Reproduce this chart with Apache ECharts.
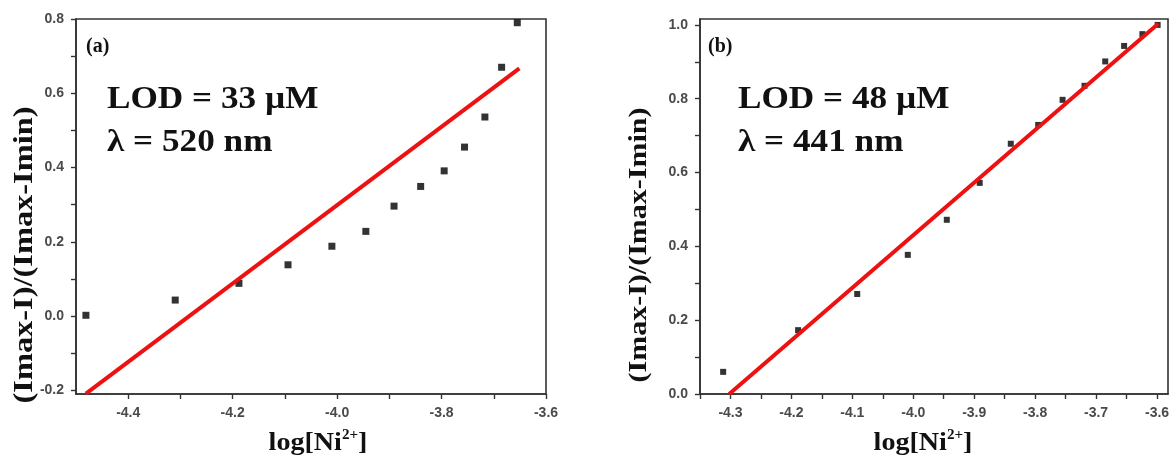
<!DOCTYPE html>
<html>
<head>
<meta charset="utf-8">
<script src="https://cdn.jsdelivr.net/npm/echarts@6/dist/echarts.min.js"></script>
<style>
html,body{margin:0;padding:0;background:#fff;}
#c{width:1174px;height:459px;}
</style>
</head>
<body>
<div id="c"></div>
<script>
// ---- Data ----
const xA = [-4.481, -4.310, -4.188, -4.094, -4.010, -3.945, -3.891, -3.840, -3.795, -3.756, -3.717, -3.685, -3.655];
const yA = [0.002, 0.043, 0.088, 0.138, 0.188, 0.228, 0.296, 0.349, 0.391, 0.455, 0.536, 0.670, 0.790];
const fitXA = [-4.481, -3.651];
const fitYA = [-0.209, 0.667];

const xB = [-4.312, -4.189, -4.092, -4.009, -3.945, -3.891, -3.840, -3.795, -3.755, -3.719, -3.685, -3.654, -3.624, -3.599];
const yB = [0.060, 0.173, 0.271, 0.377, 0.472, 0.572, 0.678, 0.729, 0.797, 0.835, 0.901, 0.943, 0.975, 1.000];
const fitXB = [-4.302, -3.598];
const fitYB = [0.0, 1.003];

// ---- Tick values / labels ----
const xTicksA = [-4.4, -4.3, -4.2, -4.1, -4.0, -3.9, -3.8, -3.7, -3.6];
const xLabelsA = [-4.4, -4.2, -4.0, -3.8, -3.6];
const yTicksA = [-0.2, -0.1, 0.0, 0.1, 0.2, 0.3, 0.4, 0.5, 0.6, 0.7, 0.8];
const yLabelsA = [-0.2, 0.0, 0.2, 0.4, 0.6, 0.8];

const xTicksB = [-4.35, -4.3, -4.25, -4.2, -4.15, -4.1, -4.05, -4.0, -3.95, -3.9, -3.85, -3.8, -3.75, -3.7, -3.65, -3.6];
const xLabelsB = [-4.3, -4.2, -4.1, -4.0, -3.9, -3.8, -3.7, -3.6];
const yTicksB = [0.0, 0.1, 0.2, 0.3, 0.4, 0.5, 0.6, 0.7, 0.8, 0.9, 1.0];
const yLabelsB = [0.0, 0.2, 0.4, 0.6, 0.8, 1.0];

const yTitle = '(Imax-I)/(Imax-Imin)';
const annA = ['LOD = 33 µM', 'λ = 520 nm'];
const annB = ['LOD = 48 µM', 'λ = 441 nm'];

// ---- Styling helpers ----
const AX = '#333';
function axisCommon(ticks, labels) {
  return {
    axisLine: { show: true, onZero: false, lineStyle: { color: AX, width: 1.6 } },
    axisTick: { show: true, inside: false, length: 5, lineStyle: { color: AX, width: 1.4 }, customValues: ticks },
    axisLabel: {
      customValues: labels,
      margin: 12,
      formatter: v => Number(v).toFixed(1),
      color: '#4a4a4a', fontSize: 14, fontWeight: 'bold', fontFamily: 'Liberation Sans'
    },
    splitLine: { show: false },
    minorTick: { show: false }
  };
}
const pairs = (xs, ys) => xs.map((x, i) => [x, ys[i]]);

const serif = 'Liberation Serif';
function txt(x, y, text, size, extra) {
  return Object.assign({
    type: 'text', x: x, y: y, z: 100,
    style: { text: text, font: 'bold ' + size + 'px "' + serif + '"', fill: '#111', align: 'left', verticalAlign: 'middle' }
  }, extra || {});
}
function xTitle(cx, cy) {
  return {
    type: 'text', x: cx, y: cy, z: 100, scaleX: 1.08,
    style: {
      text: '{n|log[Ni}{s|2+}{n|]}', align: 'center', verticalAlign: 'middle',
      rich: {
        n: { fontSize: 26, fontWeight: 'bold', fontFamily: serif, fill: '#111', lineHeight: 30 },
        s: { fontSize: 14, fontWeight: 'bold', fontFamily: serif, fill: '#111', lineHeight: 30, verticalAlign: 'top', padding: [0, 0, 14, 0] }
      }
    }
  };
}
function yTitleEl(cx, cy, size, sx) {
  return {
    type: 'text', x: cx, y: cy, z: 100, rotation: Math.PI / 2, scaleX: sx,
    style: { text: yTitle, font: 'bold ' + size + 'px "' + serif + '"', fill: '#111', align: 'center', verticalAlign: 'middle' }
  };
}

const chart = echarts.init(document.getElementById('c'), null, { renderer: 'canvas' });
chart.setOption({
  backgroundColor: '#fff',
  animation: false,
  grid: [
    { left: 76, top: 19, width: 470, height: 375, show: true, borderColor: AX, borderWidth: 1.6, backgroundColor: 'transparent' },
    { left: 700, top: 19, width: 468, height: 375, show: true, borderColor: AX, borderWidth: 1.6, backgroundColor: 'transparent' }
  ],
  xAxis: [
    Object.assign({ type: 'value', gridIndex: 0, min: -4.5, max: -3.6 }, axisCommon(xTicksA, xLabelsA)),
    Object.assign({ type: 'value', gridIndex: 1, min: -4.35, max: -3.582 }, axisCommon(xTicksB, xLabelsB))
  ],
  yAxis: [
    Object.assign({ type: 'value', gridIndex: 0, min: -0.21, max: 0.8 }, axisCommon(yTicksA, yLabelsA)),
    Object.assign({ type: 'value', gridIndex: 1, min: 0, max: 1.016 }, axisCommon(yTicksB, yLabelsB))
  ],
  series: [
    { type: 'scatter', xAxisIndex: 0, yAxisIndex: 0, data: pairs(xA, yA), symbol: 'rect', symbolSize: 7, itemStyle: { color: '#000' }, z: 2 },
    { type: 'line', xAxisIndex: 0, yAxisIndex: 0, data: pairs(fitXA, fitYA), showSymbol: false, symbol: 'none', lineStyle: { color: '#ee1111', width: 4 }, z: 3 },
    { type: 'scatter', xAxisIndex: 1, yAxisIndex: 1, data: pairs(xB, yB), symbol: 'rect', symbolSize: 6, itemStyle: { color: '#000' }, z: 2 },
    { type: 'line', xAxisIndex: 1, yAxisIndex: 1, data: pairs(fitXB, fitYB), showSymbol: false, symbol: 'none', lineStyle: { color: '#ee1111', width: 4 }, z: 3 }
  ],
  graphic: [
    txt(86, 47, '(a)', 20),
    txt(107, 100, annA[0], 32, { scaleX: 1.1 }),
    txt(107, 143, annA[1], 32, { scaleX: 1.1 }),
    txt(708, 47, '(b)', 20),
    txt(738, 100, annB[0], 32, { scaleX: 1.1 }),
    txt(738, 143, annB[1], 32, { scaleX: 1.1 }),
    xTitle(318, 443),
    xTitle(923, 443),
    yTitleEl(25, 255, 27, 1.2),
    yTitleEl(640, 245, 25, 1.2)
  ]
});
</script>
</body>
</html>
